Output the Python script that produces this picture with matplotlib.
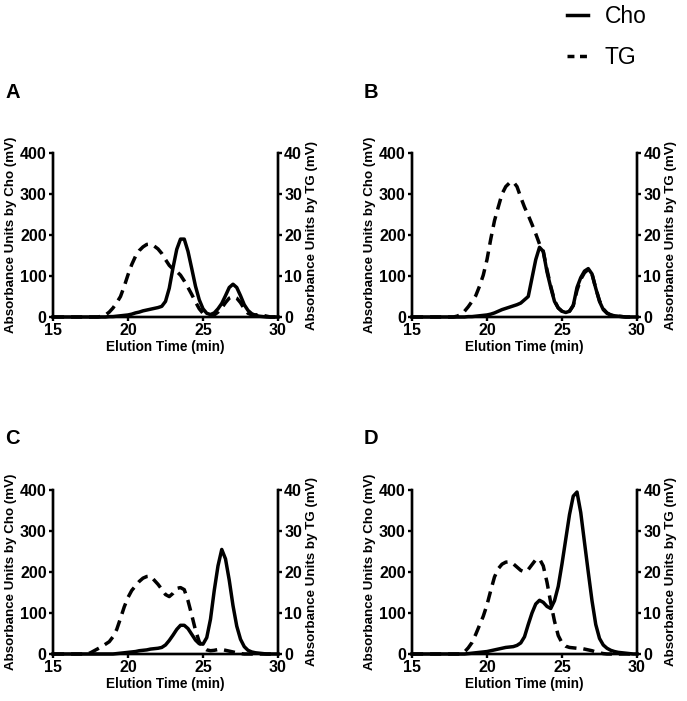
import numpy as np
import matplotlib
matplotlib.use("Agg")
import matplotlib.pyplot as plt
from matplotlib.lines import Line2D

plt.rcParams['font.family'] = ['Liberation Sans', 'DejaVu Sans']

# elution time grid (min), 0.25 min steps from 15 to 30
time = np.arange(15, 30.001, 0.25)

# Cho traces (mV, left axis)
cho_a = [0, 0, 0, 0, 0, 0, 0, 0, 0, 0, 0, 0,
         0, 0, 0, 1, 1, 2, 3, 4, 5, 7, 10, 12, 15, 17, 19, 21,
         23, 26, 38, 70, 120, 165, 190, 190, 160, 118, 75, 42,
         20, 9, 6, 10, 20, 33, 52, 72, 80, 72, 52, 30,
         16, 8, 4, 2, 1, 0, 0, 0, 0]
cho_b = [0, 0, 0, 0, 0, 0, 0, 0, 0, 0, 0, 0,
         0, 0, 0, 1, 1, 2, 3, 4, 5, 7, 10, 14, 18, 21, 24, 27,
         30, 34, 42, 50, 95, 140, 170, 160, 110, 72, 38, 22,
         14, 11, 14, 28, 72, 96, 112, 118, 105, 70, 38, 18,
         9, 5, 3, 2, 1, 0, 0, 0, 0]
cho_c = [0, 0, 0, 0, 0, 0, 0, 0, 0, 0, 0, 0,
         0, 0, 0, 0, 0, 1, 2, 3, 4, 5, 6, 8, 9, 10, 12, 13,
         14, 16, 22, 33, 46, 60, 70, 70, 62, 48, 34, 25,
         24, 40, 85, 155, 215, 255, 232, 180, 118, 68, 36, 18,
         9, 5, 3, 2, 1, 0, 0, 0, 0]
cho_d = [0, 0, 0, 0, 0, 0, 0, 0, 0, 0, 0, 0,
         0, 0, 0, 1, 2, 3, 4, 5, 6, 8, 10, 12, 14, 16, 17, 18,
         21, 27, 42, 72, 100, 122, 131, 126, 116, 111, 130, 165,
         220, 280, 340, 385, 395, 345, 272, 200, 130, 72, 38, 22,
         14, 9, 6, 4, 3, 2, 1, 0, 0]

# TG traces (mV, right axis)
tg_a = [0, 0, 0, 0, 0, 0, 0, 0, 0, 0, 0, 0,
        0, 0.2, 0.5, 1.2, 2.2, 3.5, 5.0, 7.5, 10.3, 12.8, 14.8, 16.2, 17.1, 17.7, 17.8, 17.3,
        16.6, 15.5, 14.0, 12.6, 11.7, 11.1, 10.2, 8.8, 7.2, 5.5, 3.7, 2.0,
        0.9, 0.4, 0.3, 0.5, 1.2, 2.2, 3.5, 4.6, 5.0, 4.6, 3.5, 2.0,
        0.9, 0.5, 0.5, 0.6, 0.4, 0.2, 0, 0, 0]
tg_b = [0, 0, 0, 0, 0, 0, 0, 0, 0, 0, 0, 0,
        0.2, 0.6, 1.4, 2.5, 3.8, 5.2, 7.5, 10.2, 14.0, 19.0, 23.5, 26.8, 30.0, 31.8, 32.7, 33.0,
        31.8, 29.2, 26.8, 24.8, 22.6, 20.3, 17.8, 16.0, 11.5, 7.5, 4.0, 2.2,
        1.4, 1.1, 1.4, 2.8, 6.5, 9.2, 10.8, 11.6, 10.5, 7.0, 4.0, 2.0,
        1.0, 0.5, 0.3, 0.2, 0.1, 0, 0, 0, 0]
tg_c = [0, 0, 0, 0, 0, 0, 0, 0, 0, 0, 0.3, 0.8,
        1.3, 1.8, 2.4, 3.0, 4.2, 6.0, 8.7, 11.5, 13.8, 15.5, 16.6, 17.7, 18.5, 18.9, 19.0, 18.0,
        17.0, 15.8, 14.5, 14.0, 14.8, 16.0, 16.2, 15.7, 13.0, 9.5, 5.8, 3.0,
        1.6, 1.0, 0.8, 0.9, 1.1, 1.1, 0.9, 0.7, 0.5, 0.3, 0.1, 0,
        0, 0, 0, 0, 0, 0, 0, 0, 0]
tg_d = [0, 0, 0, 0, 0, 0, 0, 0, 0, 0, 0, 0,
        0, 0, 0.5, 1.5, 2.8, 4.8, 7.0, 9.2, 12.0, 15.5, 18.8, 20.8, 21.9, 22.4, 22.5, 22.0,
        21.2, 20.4, 20.0, 20.6, 21.8, 23.0, 23.2, 21.5, 17.5, 12.5, 8.0, 4.5,
        2.7, 1.9, 1.6, 1.5, 1.4, 1.4, 1.2, 1.0, 0.8, 0.5, 0.3, 0.1,
        0, 0, 0, 0, 0, 0, 0, 0, 0]

panels = ['A', 'B', 'C', 'D']
cho = [cho_a, cho_b, cho_c, cho_d]
tg = [tg_a, tg_b, tg_c, tg_d]

fig = plt.figure(figsize=(6.87, 7.01), dpi=100)

W, H = 687, 701
boxes = [(53, 153), (412, 153), (53, 490), (412, 490)]  # left, top in px
aw, ah = 225, 164
letter_pos = [(5, 92), (364, 92), (5, 438), (364, 438)]

lw = 2.5
dash = (3.2, 2.0)

for i in range(4):
    x0, y0 = boxes[i]
    ax = fig.add_axes([x0 / W, 1 - (y0 + ah) / H, aw / W, ah / H])
    ax2 = ax.twinx()

    ax.plot(time, cho[i], color='black', lw=lw, clip_on=False)
    ax2.plot(time, tg[i], color='black', lw=lw, linestyle=(0, dash), clip_on=False)

    ax.set_xlim(15, 30)
    ax.set_ylim(0, 400)
    ax2.set_ylim(0, 40)
    ax.set_xticks([15, 20, 25, 30])
    ax.set_yticks([0, 100, 200, 300, 400])
    ax2.set_yticks([0, 10, 20, 30, 40])

    for a in (ax, ax2):
        a.spines['top'].set_visible(False)
        for s in a.spines.values():
            s.set_linewidth(1.7)
        a.tick_params(width=1.7, length=3, pad=1.5)
        for lab in a.get_xticklabels() + a.get_yticklabels():
            lab.set_fontsize(11.5)
            lab.set_fontweight('bold')

    ax.set_xlabel('Elution Time (min)', fontsize=9.8, fontweight='bold', labelpad=1)
    ax.set_ylabel('Absorbance Units by Cho (mV)', fontsize=9.6, fontweight='bold', labelpad=2)
    ax2.set_ylabel('Absorbance Units by TG (mV)', fontsize=9.6, fontweight='bold', labelpad=3)

    lx, ly = letter_pos[i]
    fig.text(lx / W, 1 - ly / H, panels[i], fontsize=14.5, fontweight='bold', va='center', ha='left')

handles = [Line2D([], [], color='black', lw=lw),
           Line2D([], [], color='black', lw=lw, linestyle=(0, (2.0, 1.6)))]
fig.legend(handles, ['Cho', 'TG'], loc='upper left', bbox_to_anchor=(567 / W, 1 - 5 / H),
           frameon=False, fontsize=16.5, handlelength=0.9, handletextpad=0.75, labelspacing=0.8,
           borderaxespad=0, borderpad=0)

fig.savefig('out.png', dpi=100)
